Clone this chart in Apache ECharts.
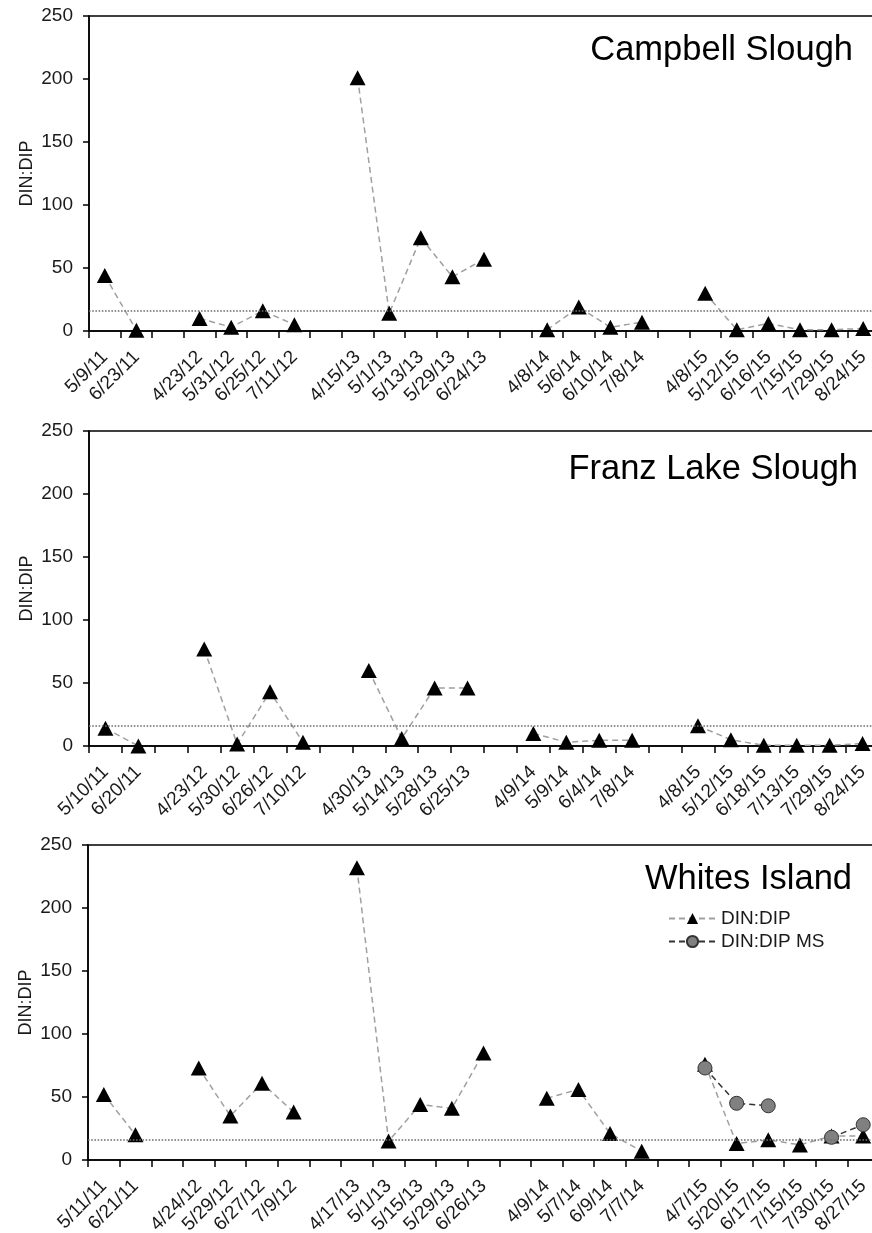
<!DOCTYPE html>
<html>
<head>
<meta charset="utf-8">
<script src="https://cdn.jsdelivr.net/npm/echarts@6.0.0/dist/echarts.min.js"></script>
<style>
  html, body { margin: 0; padding: 0; background: #fff; }
  #chart { width: 872px; height: 1233px; }
</style>
</head>
<body>
<div id="chart"></div>
<script>
// Sampling dates per site; empty entries separate the field seasons.
const campbellDates = ['5/9/11', '6/23/11', '',
  '4/23/12', '5/31/12', '6/25/12', '7/11/12', '',
  '4/15/13', '5/1/13', '5/13/13', '5/29/13', '6/24/13', '',
  '4/8/14', '5/6/14', '6/10/14', '7/8/14', '',
  '4/8/15', '5/12/15', '6/16/15', '7/15/15', '7/29/15', '8/24/15'];
const campbellRatio = [44, 0.5, null,
  10, 3, 16, 5, null,
  201, 14, 74, 43, 57, null,
  1, 19, 3, 7, null,
  30, 1, 6, 1, 1, 2];

const franzDates = ['5/10/11', '6/20/11', '',
  '4/23/12', '5/30/12', '6/26/12', '7/10/12', '',
  '4/30/13', '5/14/13', '5/28/13', '6/25/13', '',
  '4/9/14', '5/9/14', '6/4/14', '7/8/14', '',
  '4/8/15', '5/12/15', '6/18/15', '7/13/15', '7/29/15', '8/24/15'];
const franzRatio = [14, 0, null,
  77, 1.5, 43, 3, null,
  60, 6, 46, 46, null,
  10, 3, 4.5, 4.5, null,
  16, 5, 0.5, 0.5, 0.5, 2];

const whitesDates = ['5/11/11', '6/21/11', '',
  '4/24/12', '5/29/12', '6/27/12', '7/9/12', '',
  '4/17/13', '5/1/13', '5/15/13', '5/29/13', '6/26/13', '',
  '4/9/14', '5/7/14', '6/9/14', '7/7/14', '',
  '4/7/15', '5/20/15', '6/17/15', '7/15/15', '7/30/15', '8/27/15'];
const whitesRatio = [52, 20, null,
  73, 35, 61, 38, null,
  232, 15, 44, 41, 85, null,
  49, 56, 21, 7, null,
  76, 13, 16, 12, 19, 19];
const whitesRatioMS = [null, null, null,
  null, null, null, null, null,
  null, null, null, null, null, null,
  null, null, null, null, null,
  73, 45, 43, null, 18, 28];

// Redfield N:P reference ratio
const redfieldRatio = 16;
const yMin = 0, yMax = 250, yStep = 50;

const FONT = '"Liberation Sans", Arial, Helvetica, sans-serif';
const TEXT = '#1a1a1a';

const panels = [
  { name: 'Campbell Slough', dates: campbellDates, ratio: campbellRatio, ms: null,
    top: 16, left: 89, titleRight: 19, titleTop: 33 },
  { name: 'Franz Lake Slough', dates: franzDates, ratio: franzRatio, ms: null,
    top: 431, left: 89, titleRight: 14, titleTop: 452 },
  { name: 'Whites Island', dates: whitesDates, ratio: whitesRatio, ms: whitesRatioMS,
    top: 845, left: 88, titleRight: 20, titleTop: 862 }
];

const grid = [], xAxis = [], yAxis = [], series = [], title = [];

panels.forEach((p, i) => {
  grid.push({
    left: p.left, right: -7, top: p.top, height: 315,
    outerBoundsMode: 'none', containLabel: false,
    show: true, borderColor: '#000', borderWidth: 1.5, backgroundColor: 'transparent'
  });
  title.push({
    text: p.name, right: p.titleRight, top: p.titleTop, padding: 0,
    textStyle: { fontFamily: FONT, fontSize: 34.5, fontWeight: 'normal', color: '#000', lineHeight: 34 }
  });
  xAxis.push({
    type: 'category', gridIndex: i, data: p.dates, boundaryGap: true,
    axisLine: { lineStyle: { color: '#000', width: 1.5 } },
    axisTick: { show: true, length: 7, interval: 0, lineStyle: { color: '#000', width: 1.5 } },
    axisLabel: { interval: 0, rotate: 45, margin: 23, fontFamily: FONT, fontSize: 19, color: TEXT },
    splitLine: { show: false }
  });
  yAxis.push({
    type: 'value', gridIndex: i, min: yMin, max: yMax, interval: yStep,
    name: 'DIN:DIP', nameLocation: 'middle', nameGap: 53, nameRotate: 90,
    nameMoveOverlap: false,
    nameTextStyle: { fontFamily: FONT, fontSize: 18, color: TEXT },
    axisLine: { show: true, lineStyle: { color: '#000', width: 1.5 } },
    axisTick: { show: true, length: 6, lineStyle: { color: '#000', width: 1.5 } },
    axisLabel: { margin: 16, fontFamily: FONT, fontSize: 19, color: TEXT },
    splitLine: { show: false }
  });
  series.push({
    name: 'DIN:DIP', type: 'line', xAxisIndex: i, yAxisIndex: i,
    data: p.ratio, connectNulls: false,
    symbol: 'triangle', symbolSize: [16, 15],
    itemStyle: { color: '#000', borderWidth: 0 },
    lineStyle: { color: '#a0a0a0', width: 1.5, type: [6, 4] },
    z: 3,
    markLine: {
      silent: true, symbol: ['none', 'none'], animation: false,
      label: { show: false },
      lineStyle: { color: '#6e6e6e', type: 'dotted', width: 1.6 },
      data: [{ yAxis: redfieldRatio }]
    }
  });
  if (p.ms) {
    series.push({
      name: 'DIN:DIP MS', type: 'line', xAxisIndex: i, yAxisIndex: i,
      data: p.ms, connectNulls: false,
      symbol: 'circle', symbolSize: 14,
      itemStyle: { color: '#808080', borderColor: '#333', borderWidth: 1 },
      lineStyle: { color: '#333', width: 1.5, type: [6, 4] },
      z: 4
    });
  }
});

const chart = echarts.init(document.getElementById('chart'), null, { renderer: 'canvas' });
chart.setOption({
  backgroundColor: '#fff',
  animation: false,
  title: title,
  grid: grid,
  xAxis: xAxis,
  yAxis: yAxis,
  legend: {
    data: ['DIN:DIP', 'DIN:DIP MS'],
    orient: 'vertical', left: 663, top: 904,
    itemWidth: 47, itemHeight: 14, itemGap: 4,
    selectedMode: false,
    textStyle: { fontFamily: FONT, fontSize: 19, color: TEXT }
  },
  series: series
});
</script>
</body>
</html>
